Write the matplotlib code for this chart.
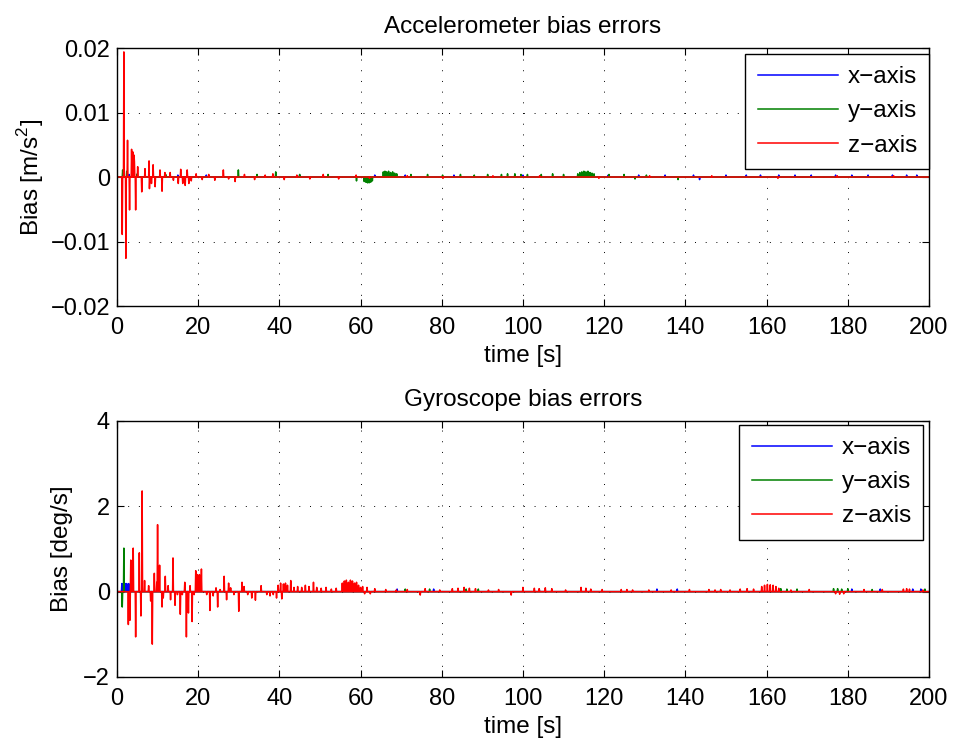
import matplotlib
matplotlib.use('Agg')
import matplotlib.pyplot as plt
import numpy as np

plt.rcParams['font.family'] = ['Liberation Sans', 'DejaVu Sans']
plt.rcParams['mathtext.fontset'] = 'custom'
plt.rcParams['mathtext.rm'] = 'Liberation Sans'

# time base [s]
t_end = 200.0
dt = 0.1

# accelerometer bias errors [m/s^2] : spike times and values
acc_x_t = [3.0, 15.0, 22.0, 45.0, 63.5, 71.0, 83.0, 100.0, 121.0, 128.5, 135.0, 142.0, 143.5,
           150.0, 155.0, 158.5, 163.0, 167.0, 171.0, 177.0, 181.0, 185.0, 191.0, 194.5, 197.0]
acc_x_v = [0.0004, 0.0003, 0.0003, 0.0003, 0.0003, 0.0003, 0.0003, 0.0003, 0.0003, 0.0003, 0.0003, 0.0003, -0.0004,
           0.0003, 0.0003, 0.0003, 0.0003, 0.0003, 0.0003, 0.0003, 0.0003, 0.0003, 0.0003, 0.0003, 0.0003]

acc_y_t = [1.4, 2.4, 5.0, 12.0, 29.9, 34.5, 39.1, 45.0, 52.0, 59.0,
           60.9, 61.3, 61.7, 62.1, 62.5, 62.9,
           65.6, 66.0, 66.4, 66.9, 67.4, 67.9, 68.4, 68.9,
           72.4, 76.5, 80.2, 84.6, 88.0, 91.3, 94.7, 96.2, 98.0, 99.5, 101.1, 104.5, 107.3, 110.0,
           113.5, 114.0, 114.5, 115.0, 115.5, 116.0, 116.5, 117.0, 117.5,
           121.2, 124.9, 127.6, 130.4, 138.2]
acc_y_v = [0.0011, 0.0009, 0.0005, 0.0004, 0.0011, 0.0004, 0.0008, 0.0004, 0.0004, -0.0006,
           -0.0007, -0.0008, -0.0009, -0.0009, -0.0008, -0.0006,
           0.0008, 0.0009, 0.0008, 0.0009, 0.0007, 0.0008, 0.0006, 0.0005,
           0.0004, 0.0004, 0.0003, 0.0004, 0.0003, 0.0004, 0.0004, 0.0005, 0.0005, 0.0004, 0.0004, 0.0004, 0.0005, 0.0004,
           0.0005, 0.0007, 0.0008, 0.0009, 0.0008, 0.0009, 0.0007, 0.0006, 0.0005,
           0.0004, 0.0004, -0.0003, 0.0003, -0.0004]

acc_z_t = [1.31, 1.72, 2.22, 2.63, 3.12, 3.61, 3.94, 4.19, 4.35, 4.6,
           5.09, 6.08, 6.9, 7.88, 8.05, 8.46, 8.95, 9.44, 10.6, 11.1,
           11.8, 13.1, 13.9, 15.1, 15.7, 16.2, 16.8, 17.3, 17.7, 18.3,
           19.5, 21.0, 22.6, 24.1, 26.2, 27.5, 29.1, 31.4, 33.9, 36.5,
           38.4, 41.2, 44.3, 47.5, 50.8, 54.6, 58.9, 62.2, 71.5, 80.3,
           92.6, 104.1, 118.7, 131.2, 146.5, 162.8, 177.4, 191.3]
acc_z_v = [-0.0089, 0.0194, -0.0126, 0.0057, -0.0051, 0.0043, 0.0039, 0.0034, 0.0024, -0.0051,
           0.0016, -0.0023, 0.0013, 0.0025, -0.0018, -0.0010, 0.0019, -0.0015, 0.0011, -0.0022,
           0.0007, 0.0007, -0.0005, -0.0010, 0.0012, -0.0010, -0.0013, 0.0011, -0.0010, -0.0006,
           0.0005, -0.0004, 0.0004, -0.0005, 0.0011, -0.0003, -0.0007, 0.0004, -0.0004, 0.0003,
           0.0005, -0.0004, 0.0003, -0.0003, 0.0004, -0.0003, 0.0003, -0.0002, 0.0002, -0.0002,
           0.0002, 0.0002, -0.0002, 0.0002, 0.0002, -0.0002, 0.0002, 0.0002]

# gyroscope bias errors [deg/s]
gyr_x_t = [1.2, 1.6, 2.0, 2.4, 2.9, 69.0, 78.0, 104.0, 133.0, 138.0, 181.0, 188.0, 196.0, 198.0]
gyr_x_v = [0.19, 0.19, 0.19, 0.19, 0.19, 0.06, 0.06, 0.06, 0.06, 0.06, 0.06, 0.06, 0.06, 0.06]

gyr_y_t = [1.3, 1.7, 71.0, 77.0, 86.0, 89.0, 163.5, 165.0, 167.5, 176.5, 177.5, 178.5, 180.0, 186.0, 199.0]
gyr_y_v = [-0.36, 1.02, 0.06, 0.06, 0.06, 0.06, 0.07, 0.06, 0.06, 0.07, 0.07, 0.06, 0.07, 0.05, 0.06]

gyr_z_t = [2.79, 3.2, 3.45, 3.8, 4.02, 4.6, 5.5, 5.9, 6.24, 6.8,
           7.8, 8.3, 8.7, 9.2, 9.8, 10.0, 10.5, 11.1, 11.4, 11.9,
           12.6, 13.2, 13.8, 14.3, 14.9, 15.6, 16.1, 16.7, 17.1, 17.6,
           18.0, 18.5, 19.0, 19.4, 19.8, 20.3, 20.8, 22.1, 22.9, 23.7,
           24.4, 24.8, 25.4, 26.4, 27.0, 27.5, 28.0, 28.8, 30.0, 30.8,
           31.3, 32.2, 33.2, 34.1, 35.5, 36.9, 37.7, 38.5, 39.3, 39.7,
           40.3, 40.6, 41.0, 41.5, 42.0, 42.8, 43.6, 44.5, 45.5, 46.4,
           47.3, 48.4, 49.2, 50.3, 51.5, 52.8, 54.0, 55.5, 56.0, 56.5,
           57.0, 57.5, 58.0, 58.5, 59.0, 59.5, 60.0, 60.5, 61.0, 61.6,
           62.4, 63.5, 66.2, 68.8, 71.5, 74.7, 75.9, 79.5, 82.6, 84.0,
           85.5, 86.8, 88.3, 91.5, 94.0, 97.1, 100.0, 102.8, 104.0, 105.5,
           107.1, 110.5, 114.3, 115.5, 116.7, 119.5, 124.2, 125.6, 127.0, 131.0,
           136.5, 141.0, 145.8, 147.3, 148.7, 151.0, 153.5, 155.2, 156.8, 158.8,
           159.5, 160.2, 160.9, 161.6, 162.3, 163.0, 166.0, 170.5, 177.0, 178.0,
           179.0, 184.0, 188.5, 193.7, 194.5, 195.2, 198.5]
gyr_z_v = [-0.77, -0.67, 0.74, 0.28, 1.02, -1.06, 0.91, -0.57, 2.36, 0.26,
           0.14, -0.22, -1.23, 0.43, 0.22, 1.57, 0.62, -0.36, -0.15, 0.36,
           0.14, -0.19, 0.79, -0.32, -0.07, -0.53, -0.07, 0.22, -1.06, -0.50,
           0.14, -0.70, -0.07, 0.49, 0.40, 0.40, 0.53, -0.07, -0.44, -0.10,
           0.09, -0.36, 0.05, 0.36, -0.19, 0.20, 0.09, -0.07, -0.46, 0.22,
           0.12, -0.07, -0.15, -0.20, 0.14, -0.07, -0.10, -0.07, -0.15, 0.15,
           0.20, -0.17, 0.18, 0.20, 0.15, 0.26, 0.10, 0.12, 0.10, 0.15,
           0.12, 0.22, 0.10, 0.08, 0.10, 0.06, 0.08, 0.20, 0.25, 0.27,
           0.22, 0.27, 0.25, 0.20, 0.22, 0.15, 0.10, 0.12, -0.05, 0.10,
           -0.05, 0.07, 0.05, 0.04, 0.05, -0.08, 0.07, 0.04, 0.07, 0.08,
           0.10, 0.08, 0.07, 0.04, 0.05, -0.08, 0.10, 0.08, 0.07, 0.09,
           0.07, 0.04, 0.10, 0.08, 0.06, 0.05, 0.05, 0.05, 0.04, 0.04,
           0.04, 0.05, 0.05, 0.04, 0.05, 0.04, 0.06, 0.07, 0.06, 0.12,
           0.15, 0.17, 0.16, 0.15, 0.12, 0.08, 0.04, 0.05, -0.05, -0.06,
           -0.05, 0.05, 0.05, 0.06, 0.07, 0.06, 0.04]

legend_labels = ['x\u2212axis', 'y\u2212axis', 'z\u2212axis']
colors = ['#0000ff', '#008000', '#ff0000']

acc_yticks = [-0.02, -0.01, 0, 0.01, 0.02]
acc_yticklabels = ['\u22120.02', '\u22120.01', '0', '0.01', '0.02']
gyr_yticks = [-2, 0, 2, 4]
xticks = np.arange(0, 201, 20)

t = np.arange(0, t_end + dt / 2, dt)


def series(ts, vs):
    s = np.zeros_like(t)
    for ti, vi in zip(ts, vs):
        s[int(round(ti / dt))] = vi
    return s


fig = plt.figure(figsize=(9.58, 7.46), dpi=100)
ax1 = fig.add_axes([0.1221, 0.5898, 0.8476, 0.3458])
ax2 = fig.add_axes([0.1221, 0.0925, 0.8476, 0.3432])

panels = [
    (ax1, [(acc_x_t, acc_x_v), (acc_y_t, acc_y_v), (acc_z_t, acc_z_v)],
     'Accelerometer bias errors', (-0.02, 0.02)),
    (ax2, [(gyr_x_t, gyr_x_v), (gyr_y_t, gyr_y_v), (gyr_z_t, gyr_z_v)],
     'Gyroscope bias errors', (-2, 4)),
]

for ax, data, title, ylim in panels:
    for (ts, vs), c, lab in zip(data, colors, legend_labels):
        ax.plot(t, series(ts, vs), color=c, lw=1.1, label=lab)
    ax.set_xlim(0, 200)
    ax.set_ylim(*ylim)
    ax.set_xticks(xticks)
    ax.set_title(title, fontsize=17.5, pad=11)
    ax.set_xlabel('time [s]', fontsize=17.5, labelpad=4)
    ax.grid(True, color='k', linestyle=(0, (1, 10)), lw=0.7)
    ax.tick_params(direction='in', top=True, right=True, length=5, width=0.8,
                   labelsize=17)
    ax.tick_params(axis='y', pad=5)
    ax.tick_params(axis='x', pad=8)
    for sp in ax.spines.values():
        sp.set_linewidth(1.0)

ax1.set_yticks(acc_yticks)
ax1.set_yticklabels(acc_yticklabels)
ax2.set_yticks(gyr_yticks)
ax1.set_ylabel(r'Bias [m/s$^{\mathregular{2}}$]', fontsize=17.5, labelpad=3)
ax2.set_ylabel('Bias [deg/s]', fontsize=17.5, labelpad=7)

leg_kw = dict(loc='upper right', fontsize=17.5, fancybox=False, framealpha=1,
              edgecolor='k', borderaxespad=0, handlelength=3.3, handletextpad=0.4,
              labelspacing=0.5, borderpad=0.5)
l1 = ax1.legend(bbox_to_anchor=(1.0, 1 - 6 / 258), **leg_kw)
l2 = ax2.legend(bbox_to_anchor=(1 - 6 / 812, 1 - 4 / 256), **leg_kw)
for lg in (l1, l2):
    lg.get_frame().set_linewidth(1.0)

fig.savefig('out.png', dpi=100)
